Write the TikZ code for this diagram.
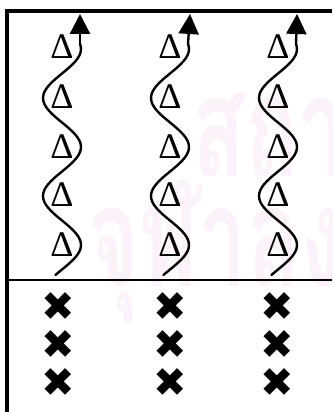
\documentclass[tikz,border=0pt]{standalone}
\usepackage{fontspec}
\setmainfont{Liberation Serif}
\newfontfamily\symfont{DejaVu Sans}
\newfontfamily\thaifont[Script=Thai]{Loma}
\usetikzlibrary{arrows.meta}
\definecolor{wmpink}{RGB}{252,243,250}
\begin{document}
\begin{tikzpicture}[x=1pt,y=-1pt,
  delta/.style={inner sep=0pt,font=\fontsize{36}{36}\selectfont},
  cross/.style={inner sep=0pt,font=\symfont\fontsize{40}{40}\selectfont},
  wave/.style={line width=2.4pt,line join=round,line cap=round},
  tip/.style={-{Triangle[length=20pt,width=20pt]}},
  frame/.style={line width=4pt},
  divider/.style={line width=2pt},
  wm/.style={text=wmpink,inner sep=0pt,anchor=base west,font=\thaifont\bfseries\fontsize{140}{140}\selectfont}]
\useasboundingbox (0,0) rectangle (332,412);
\clip (0,0) rectangle (332,412);
% watermark
\node[wm] (wm1) at (192,176) {\scalebox{0.62}[1]{สถาบัน}};
\node[wm] (wm2) at (88,286) {\scalebox{0.62}[1]{จุฬาลงกรณ์}};
% frame
\coordinate (fbl) at (7,412);
\coordinate (ftl) at (7,11);
\coordinate (ftr) at (332,11);
\draw[frame] (fbl) -- (ftl) -- (ftr);
\coordinate (dl) at (7,280);
\coordinate (dr) at (332,280);
\draw[divider] (dl) -- (dr);
% columns
\foreach \c/\i/\xc/\ah in {62/1/58/18,170/2/170/20,278/3/277/19} {
  \foreach \y/\j in {47/1,97/2,147/3,195/4,245/5}
    \node[delta] (d\i\j) at (\c,\y) {Δ};
  \foreach \y/\j in {307/1,345/2,383/3}
    \node[cross] (x\i\j) at (\xc,\y) {✖};
  \coordinate (t\i) at (\c+18,44);
  \coordinate (h\i) at (\c+\ah,14);
  \draw[wave] plot[domain=275:44,samples=80,smooth] ({\c+19*cos((\x-245)*3.67347)},\x) -- (t\i);
  \draw[wave,tip] (t\i) -- (h\i);
}
\end{tikzpicture}
\end{document}
